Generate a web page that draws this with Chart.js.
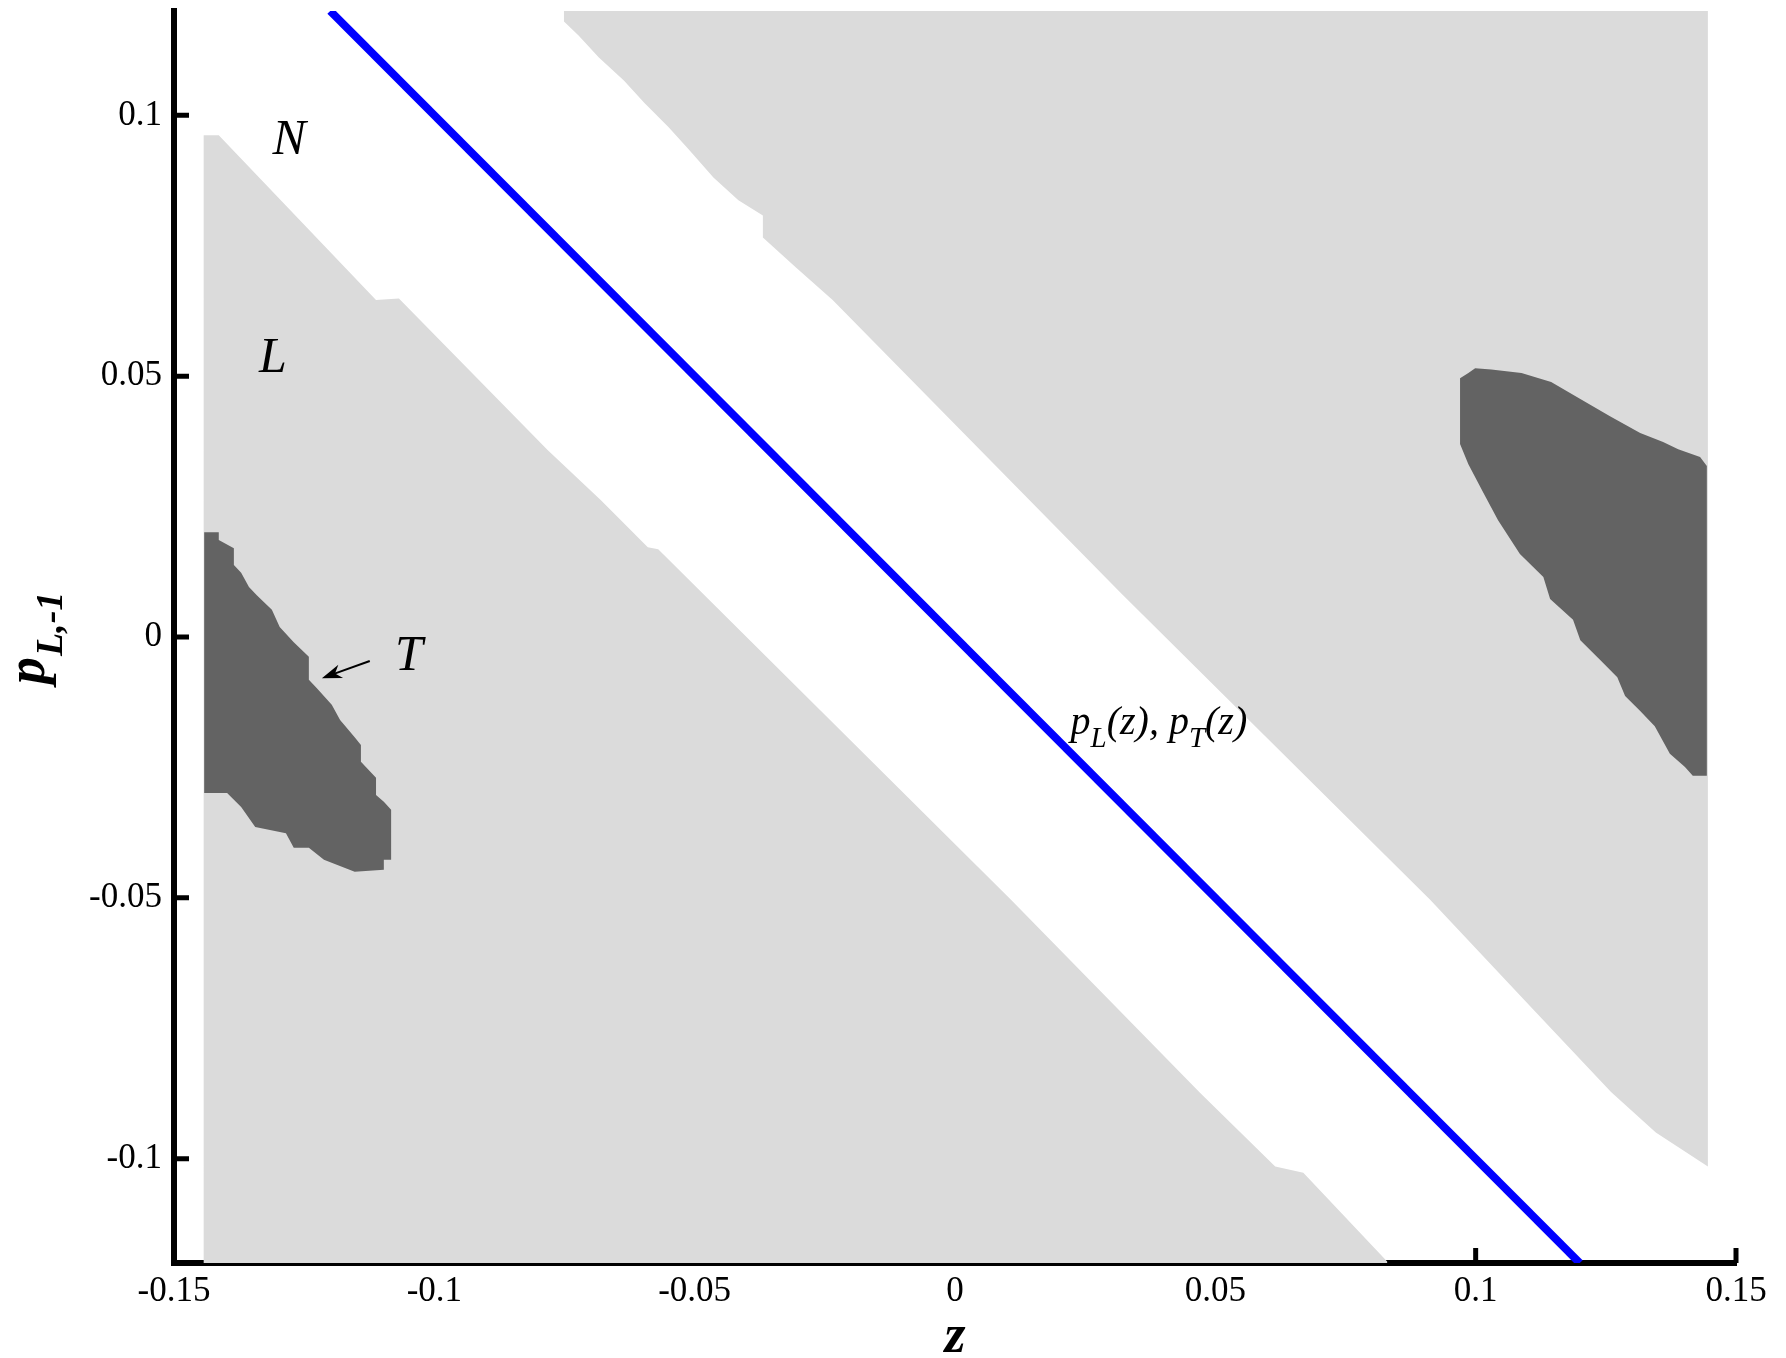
<!DOCTYPE html>
<html>
<head>
<meta charset="utf-8">
<script src="https://cdn.jsdelivr.net/npm/chart.js@4/dist/chart.umd.min.js"></script>
<style>
  html, body { margin: 0; padding: 0; background: #fff; }
  canvas { display: block; }
</style>
</head>
<body>
<canvas id="chart" width="1786" height="1358"></canvas>
<script>
(function() {

    // axis ticks
    var zTicks = [-0.15, -0.1, -0.05, 0, 0.05, 0.1, 0.15];
    var pTicks = [-0.1, -0.05, 0, 0.05, 0.1];

    // p_L(z), p_T(z) line
    var curveZ = [-0.12, 0.12];
    var curveP = [0.12, -0.12];

    // light region, lower left (L)
    var regionLz = [-0.1443, -0.1443, -0.1414, -0.1112, -0.1068, -0.0782, -0.0680, -0.0590, -0.0570,
                    0.0108, 0.0471, 0.0615, 0.0669, 0.0830, 0.0830];
    var regionLp = [-0.1212, 0.0962, 0.0962, 0.0646, 0.0649, 0.0358, 0.0262, 0.0172, 0.0168,
                    -0.0504, -0.0874, -0.1015, -0.1027, -0.1197, -0.1212];

    // light region, upper right
    var regionUz = [-0.0751, 0.1446, 0.1446, 0.1346, 0.1260, 0.1116, 0.0913, 0.0318, -0.0235, -0.0306,
                    -0.0369, -0.0369, -0.0416, -0.0464, -0.0510, -0.0550, -0.0596, -0.0636, -0.0684,
                    -0.0723, -0.0751];
    var regionUp = [0.1209, 0.1209, -0.1015, -0.0950, -0.0872, -0.0720, -0.0504, 0.0085, 0.0646, 0.0709,
                    0.0766, 0.0808, 0.0837, 0.0881, 0.0933, 0.0977, 0.1023, 0.1067, 0.1111,
                    0.1153, 0.1180];

    // dark region, left (T)
    var regionTz = [-0.1442, -0.1414, -0.1414, -0.1385, -0.1385, -0.1371, -0.1356, -0.1341, -0.1312,
                    -0.1297, -0.1270, -0.1241, -0.1241, -0.1226, -0.1197, -0.1181, -0.1153, -0.1141,
                    -0.1141, -0.1112, -0.1112, -0.1097, -0.1083, -0.1083, -0.1097, -0.1097, -0.1153,
                    -0.1212, -0.1241, -0.1270, -0.1285, -0.1344, -0.1371, -0.1398, -0.1442];
    var regionTp = [0.0201, 0.0201, 0.0186, 0.0170, 0.0138, 0.0123, 0.0096, 0.0080, 0.0052,
                    0.0019, -0.0010, -0.0038, -0.0082, -0.0098, -0.0130, -0.0159, -0.0192, -0.0207,
                    -0.0239, -0.0270, -0.0303, -0.0316, -0.0331, -0.0427, -0.0427, -0.0446, -0.0450,
                    -0.0427, -0.0404, -0.0404, -0.0376, -0.0364, -0.0326, -0.0299, -0.0299];

    // dark region, right
    var regionRz = [0.0986, 0.0999, 0.1030, 0.1088, 0.1145, 0.1201, 0.1258, 0.1316, 0.1360, 0.1389,
                    0.1431, 0.1444, 0.1444, 0.1417, 0.1402, 0.1373, 0.1344, 0.1316, 0.1287, 0.1272,
                    0.1243, 0.1201, 0.1187, 0.1143, 0.1130, 0.1085, 0.1043, 0.1014, 0.0986, 0.0970,
                    0.0970];
    var regionRp = [0.0506, 0.0515, 0.0513, 0.0506, 0.0489, 0.0456, 0.0423, 0.0391, 0.0374, 0.0360,
                    0.0345, 0.0328, -0.0266, -0.0266, -0.0249, -0.0224, -0.0171, -0.0142, -0.0113, -0.0077,
                    -0.0048, -0.0006, 0.0033, 0.0073, 0.0115, 0.0159, 0.0224, 0.0278, 0.0331, 0.0370,
                    0.0496];

    var lightGrey = '#dbdbdb';
    var darkGrey = '#636363';
    var serif = "'Liberation Serif', 'Times New Roman', serif";

    function toPoints(zs, ps) {
        var output = [];
        for (var i = 0; i < zs.length; i++) {
            output.push({ x: zs[i], y: ps[i] });
        }
        return output;
    }

    function region(zs, ps, colour, order) {
        return {
            data: toPoints(zs, ps),
            backgroundColor: colour,
            borderColor: colour,
            borderWidth: 0,
            pointRadius: 0,
            fill: 'shape',
            tension: 0,
            clip: false,
            order: order
        };
    }

    function fmt(v) {
        var r = Math.round(v * 100) / 100;
        return r === 0 ? '0' : String(r);
    }

    // inward tick marks, drawn under the regions
    var tickMarks = {
        id: 'tickMarks',
        beforeDatasetsDraw: function(chart) {
            var c = chart.ctx, a = chart.chartArea;
            var xs = chart.scales.x, ys = chart.scales.y;
            c.save();
            c.strokeStyle = '#000';
            c.lineWidth = 5;
            c.beginPath();
            zTicks.forEach(function(v) {
                var px = xs.getPixelForValue(v);
                c.moveTo(px, a.bottom);
                c.lineTo(px, a.bottom - 15);
            });
            pTicks.forEach(function(v) {
                var py = ys.getPixelForValue(v);
                c.moveTo(a.left, py);
                c.lineTo(a.left + 15, py);
            });
            c.stroke();
            c.restore();
        }
    };

    // labels, arrow and axis titles
    var notes = {
        id: 'notes',
        afterDatasetsDraw: function(chart) {
            var c = chart.ctx;
            var xs = chart.scales.x, ys = chart.scales.y;
            function X(v) { return xs.getPixelForValue(v); }
            function Y(v) { return ys.getPixelForValue(v); }
            c.save();
            c.fillStyle = '#000';
            c.strokeStyle = '#000';
            c.textBaseline = 'alphabetic';

            c.font = 'italic 50px ' + serif;
            c.textAlign = 'center';
            c.fillText('N', X(-0.1279), Y(0.0925));
            c.fillText('L', X(-0.1310), Y(0.0508));
            c.fillText('T', X(-0.1049), Y(-0.0063));

            // arrow to T region
            var x0 = X(-0.1124), y0 = Y(-0.0046), x1 = X(-0.1216), y1 = Y(-0.0079);
            var ang = Math.atan2(y1 - y0, x1 - x0);
            c.lineWidth = 2;
            c.beginPath();
            c.moveTo(x0, y0);
            c.lineTo(x1 - 12 * Math.cos(ang), y1 - 12 * Math.sin(ang));
            c.stroke();
            c.beginPath();
            c.moveTo(x1, y1);
            c.lineTo(x1 - 20 * Math.cos(ang) + 7 * Math.sin(ang), y1 - 20 * Math.sin(ang) - 7 * Math.cos(ang));
            c.lineTo(x1 - 14 * Math.cos(ang), y1 - 14 * Math.sin(ang));
            c.lineTo(x1 - 20 * Math.cos(ang) - 7 * Math.sin(ang), y1 - 20 * Math.sin(ang) + 7 * Math.cos(ang));
            c.closePath();
            c.fill();

            // curve label
            c.textAlign = 'left';
            var lx = X(0.0222), ly = Y(-0.0186);
            var parts = [['p', 0, 40], ['L', 13, 29], ['(z), ', 0, 40], ['p', 0, 40], ['T', 13, 29], ['(z)', 0, 40]];
            parts.forEach(function(pt) {
                c.font = 'italic ' + pt[2] + 'px ' + serif;
                c.fillText(pt[0], lx, ly + pt[1]);
                lx += c.measureText(pt[0]).width;
            });

            // axis titles
            c.font = 'bold italic 54px ' + serif;
            c.textAlign = 'center';
            c.fillText('z', X(0), 1352);

            c.translate(44, Y(0) + 47);
            c.rotate(-Math.PI / 2);
            c.textAlign = 'left';
            c.font = 'bold italic 54px ' + serif;
            c.fillText('p', 0, 0);
            var w = c.measureText('p').width;
            c.font = 'bold italic 38px ' + serif;
            c.fillText('L,-1', w + 1, 18);
            c.restore();
        }
    };

    var axisFont = { family: serif, size: 35 };

    var chart = new Chart(document.getElementById('chart').getContext('2d'), {
        type: 'line',
        data: {
            datasets: [
                {
                    data: toPoints(curveZ, curveP),
                    borderColor: '#0000ff',
                    borderWidth: 8,
                    pointRadius: 0,
                    fill: false,
                    order: 0
                },
                region(regionTz, regionTp, darkGrey, 1),
                region(regionRz, regionRp, darkGrey, 1),
                region(regionLz, regionLp, lightGrey, 2),
                region(regionUz, regionUp, lightGrey, 2)
            ]
        },
        options: {
            responsive: false,
            animation: false,
            events: [],
            layout: { padding: { top: 11, right: 50, left: 0, bottom: 0 } },
            plugins: {
                legend: { display: false },
                tooltip: { enabled: false }
            },
            scales: {
                x: {
                    type: 'linear',
                    min: -0.15,
                    max: 0.15,
                    grid: { display: false, drawTicks: false },
                    border: { display: true, color: '#000', width: 6 },
                    afterBuildTicks: function(s) { s.ticks = zTicks.map(function(v) { return { value: v }; }); },
                    afterFit: function(s) {
                        s.height = 95;
                        s.paddingLeft = 0; s.paddingRight = 0;
                    },
                    ticks: {
                        font: axisFont, color: '#000', padding: 8,
                        maxRotation: 0, autoSkip: false, callback: fmt
                    }
                },
                y: {
                    type: 'linear',
                    min: -0.12,
                    max: 0.12,
                    grid: { display: false, drawTicks: false },
                    border: { display: true, color: '#000', width: 6 },
                    afterBuildTicks: function(s) { s.ticks = pTicks.map(function(v) { return { value: v }; }); },
                    afterFit: function(s) {
                        s.width = 174;
                        s.paddingTop = 0; s.paddingBottom = 0;
                    },
                    ticks: {
                        font: axisFont, color: '#000', padding: 12,
                        autoSkip: false, callback: fmt
                    }
                }
            }
        },
        plugins: [tickMarks, notes]
    });

})();
</script>
</body>
</html>
